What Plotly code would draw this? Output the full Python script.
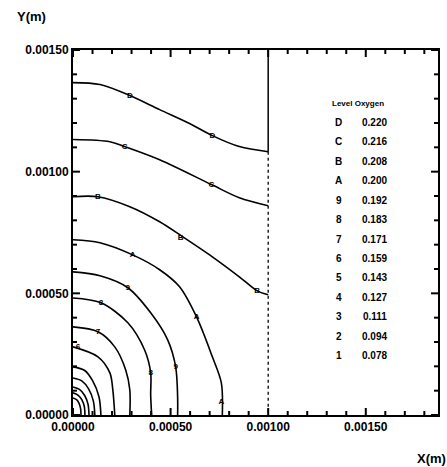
import plotly.graph_objects as go

# ---------------- data (metres) ----------------
LEVEL_CODES = ["D", "C", "B", "A", "9", "8", "7", "6", "5", "4", "3", "2", "1"]
LEVEL_VALUES = ["0.220", "0.216", "0.208", "0.200", "0.192", "0.183", "0.171",
                "0.159", "0.143", "0.127", "0.111", "0.094", "0.078"]

CONTOUR_X = {
    "D": [0.0e-3, 0.138e-3, 0.291e-3, 0.444e-3, 0.597e-3, 0.714e-3, 0.852e-3, 1.000e-3],
    "C": [0.0e-3, 0.189e-3, 0.265e-3, 0.444e-3, 0.709e-3, 0.852e-3, 1.000e-3],
    "B": [0.0e-3, 0.128e-3, 0.291e-3, 0.444e-3, 0.561e-3, 0.714e-3, 0.852e-3, 0.944e-3, 1.000e-3],
    "A": [0.0e-3, 0.138e-3, 0.306e-3, 0.444e-3, 0.546e-3, 0.633e-3, 0.714e-3, 0.760e-3, 0.765e-3],
    "9": [0.0e-3, 0.138e-3, 0.281e-3, 0.398e-3, 0.485e-3, 0.526e-3, 0.536e-3, 0.536e-3],
    "8": [0.0e-3, 0.143e-3, 0.281e-3, 0.367e-3, 0.398e-3, 0.398e-3, 0.403e-3],
    "7": [0.0e-3, 0.128e-3, 0.214e-3, 0.270e-3, 0.291e-3, 0.291e-3],
    "6": [0.0e-3, 0.128e-3, 0.189e-3, 0.204e-3, 0.214e-3],
    "5": [0.0e-3, 0.060e-3, 0.101e-3, 0.133e-3, 0.143e-3],
    "4": [0.0e-3, 0.045e-3, 0.080e-3, 0.104e-3, 0.112e-3],
    "3": [0.0e-3, 0.033e-3, 0.060e-3, 0.077e-3, 0.082e-3],
    "2": [0.0e-3, 0.025e-3, 0.045e-3, 0.058e-3, 0.061e-3],
    "1": [0.0e-3, 0.018e-3, 0.031e-3, 0.039e-3, 0.041e-3],
}
CONTOUR_Y = {
    "D": [1.366e-3, 1.358e-3, 1.313e-3, 1.255e-3, 1.198e-3, 1.148e-3, 1.103e-3, 1.082e-3],
    "C": [1.132e-3, 1.123e-3, 1.103e-3, 1.049e-3, 0.947e-3, 0.893e-3, 0.860e-3],
    "B": [0.897e-3, 0.897e-3, 0.856e-3, 0.794e-3, 0.733e-3, 0.650e-3, 0.568e-3, 0.510e-3, 0.494e-3],
    "A": [0.720e-3, 0.708e-3, 0.658e-3, 0.597e-3, 0.527e-3, 0.403e-3, 0.239e-3, 0.132e-3, 0.0e-3],
    "9": [0.588e-3, 0.572e-3, 0.523e-3, 0.420e-3, 0.309e-3, 0.198e-3, 0.074e-3, 0.0e-3],
    "8": [0.481e-3, 0.461e-3, 0.379e-3, 0.267e-3, 0.173e-3, 0.082e-3, 0.0e-3],
    "7": [0.362e-3, 0.342e-3, 0.280e-3, 0.185e-3, 0.103e-3, 0.0e-3],
    "6": [0.280e-3, 0.239e-3, 0.173e-3, 0.103e-3, 0.0e-3],
    "5": [0.198e-3, 0.183e-3, 0.140e-3, 0.075e-3, 0.0e-3],
    "4": [0.152e-3, 0.140e-3, 0.107e-3, 0.058e-3, 0.0e-3],
    "3": [0.115e-3, 0.105e-3, 0.080e-3, 0.044e-3, 0.0e-3],
    "2": [0.091e-3, 0.082e-3, 0.063e-3, 0.035e-3, 0.0e-3],
    "1": [0.070e-3, 0.063e-3, 0.048e-3, 0.026e-3, 0.0e-3],
}

# contour label marks placed on the lines
LABEL_TEXT = ["D", "D", "C", "C", "B", "B", "B", "A", "A", "A", "9", "9", "8", "8", "7", "6"]
LABEL_X = [0.291e-3, 0.714e-3, 0.265e-3, 0.709e-3, 0.128e-3, 0.551e-3, 0.944e-3,
           0.306e-3, 0.633e-3, 0.760e-3, 0.281e-3, 0.526e-3, 0.143e-3, 0.398e-3,
           0.128e-3, 0.026e-3]
LABEL_Y = [1.313e-3, 1.148e-3, 1.103e-3, 0.947e-3, 0.897e-3, 0.728e-3, 0.510e-3,
           0.658e-3, 0.403e-3, 0.053e-3, 0.523e-3, 0.198e-3, 0.461e-3, 0.173e-3,
           0.342e-3, 0.280e-3]

BOUNDARY_X = 1.0e-3
BOUNDARY_SOLID_Y = [1.5e-3, 1.082e-3]
BOUNDARY_DOTTED_Y = [1.082e-3, 0.0]

X_RANGE = [0.0, 0.00187]
Y_RANGE = [0.0, 0.0015]
X_MAJOR_TICKS = [0.0, 0.0005, 0.0010, 0.0015]
Y_MAJOR_TICKS = [0.0, 0.0005, 0.0010, 0.0015]
X_TICK_LABELS = ["0.00000", "0.00050", "0.00100", "0.00150"]
Y_TICK_LABELS = ["0.00000", "0.00050", "0.00100", "0.00150"]
X_MINOR_TICKS = [0.0001, 0.0002, 0.0003, 0.0004, 0.0006, 0.0007, 0.0008, 0.0009,
                 0.0011, 0.0012, 0.0013, 0.0014, 0.0016, 0.0017, 0.0018]
Y_MINOR_TICKS = [0.0001, 0.0002, 0.0003, 0.0004, 0.0006, 0.0007, 0.0008, 0.0009,
                 0.0011, 0.0012, 0.0013, 0.0014]

# legend-block positions (data coords)
LEG_LETTER_X = 1.362e-3
LEG_VALUE_X = 1.546e-3
LEG_TITLE_X = 1.46e-3
LEG_TITLE_Y = 1.28e-3
LEG_TOP_Y = 1.202e-3
LEG_STEP_Y = 0.0798e-3

FAMILY = "Liberation Sans, Arial, sans-serif"
W, H = 447, 467
M_L, M_R, M_T, M_B = 73, 7, 50, 52
MAJOR_PX, MINOR_PX = 7, 4


def bold(s):
    return "<b>" + s + "</b>"


fig = go.Figure()

for code in LEVEL_CODES:
    fig.add_trace(go.Scatter(
        x=CONTOUR_X[code], y=CONTOUR_Y[code], mode="lines",
        line=dict(color="black", width=1.6, shape="spline", smoothing=0.9),
        showlegend=False, hoverinfo="skip"))

fig.add_trace(go.Scatter(
    x=[BOUNDARY_X, BOUNDARY_X], y=BOUNDARY_SOLID_Y, mode="lines",
    line=dict(color="black", width=1.5), showlegend=False, hoverinfo="skip"))
fig.add_trace(go.Scatter(
    x=[BOUNDARY_X, BOUNDARY_X], y=BOUNDARY_DOTTED_Y, mode="lines",
    line=dict(color="black", width=1.3, dash="dot"), showlegend=False, hoverinfo="skip"))

fig.add_trace(go.Scatter(
    x=LABEL_X, y=LABEL_Y, mode="text", text=[bold(t) for t in LABEL_TEXT],
    textfont=dict(size=8, family=FAMILY, color="black"),
    showlegend=False, hoverinfo="skip"))

# inside tick marks on all four frame sides, derived from the tick lists
x_per_px = (X_RANGE[1] - X_RANGE[0]) / (W - M_L - M_R)
y_per_px = (Y_RANGE[1] - Y_RANGE[0]) / (H - M_T - M_B)
tx, ty = [], []
for ticks, px in ((X_MAJOR_TICKS, MAJOR_PX), (X_MINOR_TICKS, MINOR_PX)):
    for t in ticks:
        tx += [t, t, None, t, t, None]
        ty += [Y_RANGE[0], Y_RANGE[0] + px * y_per_px, None,
               Y_RANGE[1], Y_RANGE[1] - px * y_per_px, None]
for ticks, px in ((Y_MAJOR_TICKS, MAJOR_PX), (Y_MINOR_TICKS, MINOR_PX)):
    for t in ticks:
        tx += [X_RANGE[0], X_RANGE[0] + px * x_per_px, None,
               X_RANGE[1], X_RANGE[1] - px * x_per_px, None]
        ty += [t, t, None, t, t, None]
fig.add_trace(go.Scatter(x=tx, y=ty, mode="lines", line=dict(color="black", width=2),
                         showlegend=False, hoverinfo="skip", cliponaxis=False))

# legend block as text
fig.add_annotation(x=LEG_TITLE_X, y=LEG_TITLE_Y, xref="x", yref="y", text=bold("Level Oxygen"),
                   showarrow=False, font=dict(size=8, family=FAMILY, color="black"))
for i, (c, v) in enumerate(zip(LEVEL_CODES, LEVEL_VALUES)):
    yy = LEG_TOP_Y - i * LEG_STEP_Y
    fig.add_annotation(x=LEG_LETTER_X, y=yy, xref="x", yref="y", text=bold(c),
                       showarrow=False, font=dict(size=10, family=FAMILY, color="black"))
    fig.add_annotation(x=LEG_VALUE_X, y=yy, xref="x", yref="y", text=bold(v),
                       showarrow=False, font=dict(size=10, family=FAMILY, color="black"))

# axis titles
fig.add_annotation(x=0.0, y=1.0, xref="paper", yref="paper", xanchor="left", yanchor="bottom",
                   xshift=-58, yshift=24, text=bold("Y(m)"), showarrow=False,
                   font=dict(size=13, family=FAMILY, color="black"))
fig.add_annotation(x=1.0, y=0.0, xref="paper", yref="paper", xanchor="right", yanchor="top",
                   xshift=10, yshift=-34, text=bold("X(m)"), showarrow=False,
                   font=dict(size=13, family=FAMILY, color="black"))

fig.update_xaxes(
    range=X_RANGE, showgrid=False, zeroline=False, showline=True, linecolor="black", linewidth=2,
    mirror=True, ticks="", tickmode="array", tickvals=X_MAJOR_TICKS,
    ticktext=[bold(t) for t in X_TICK_LABELS],
    tickfont=dict(size=12, family=FAMILY, color="black"))
fig.update_yaxes(
    range=Y_RANGE, showgrid=False, zeroline=False, showline=True, linecolor="black", linewidth=2,
    mirror=True, ticks="", tickmode="array", tickvals=Y_MAJOR_TICKS,
    ticktext=[bold(t) for t in Y_TICK_LABELS],
    tickfont=dict(size=12, family=FAMILY, color="black"))

fig.update_layout(
    width=W, height=H,
    margin=dict(l=M_L, r=M_R, t=M_T, b=M_B),
    paper_bgcolor="white", plot_bgcolor="white",
    showlegend=False,
    font=dict(family=FAMILY, color="black"),
)

fig.write_html("out.html")
